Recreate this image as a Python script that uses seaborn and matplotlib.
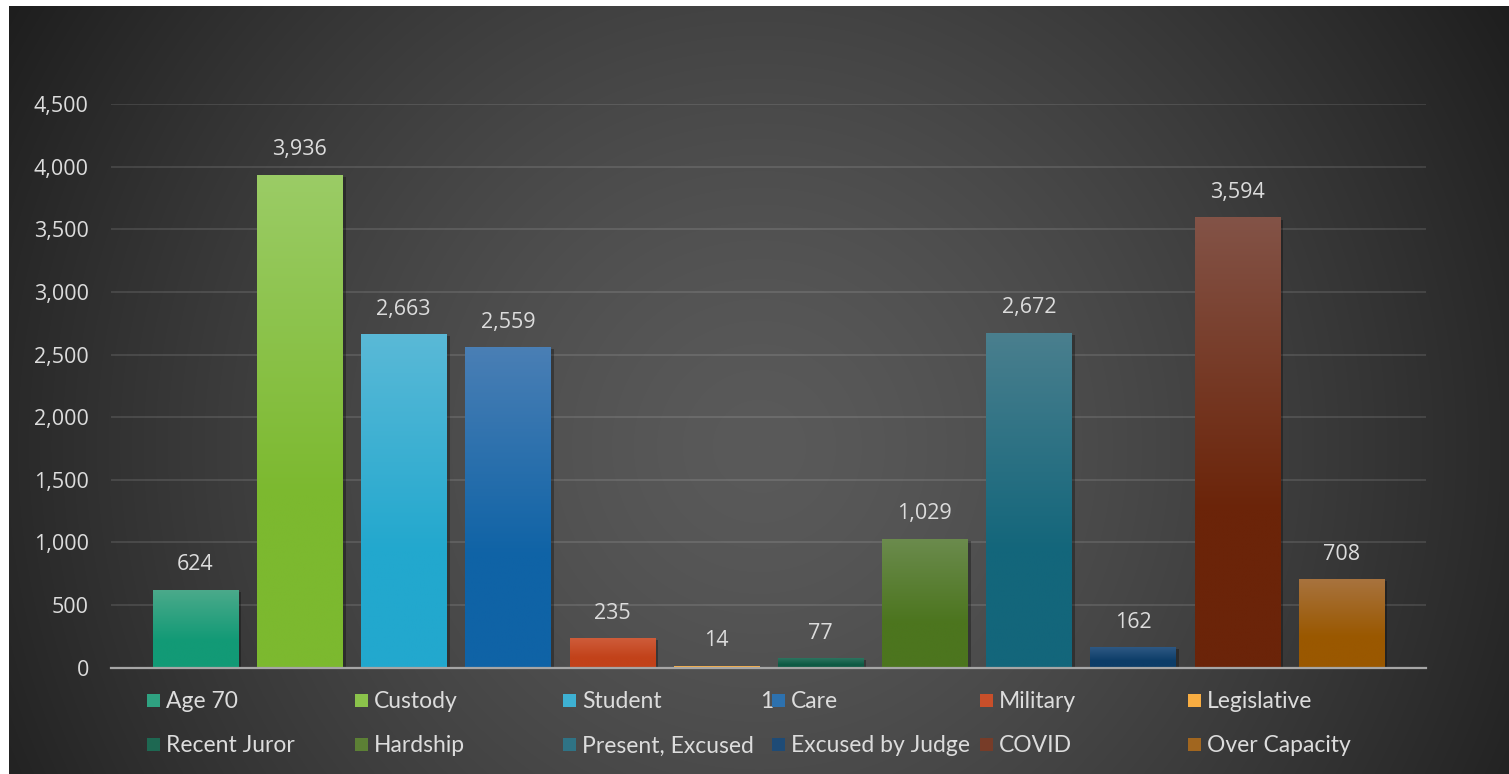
import numpy as np
import pandas as pd
import matplotlib
matplotlib.use("Agg")
import matplotlib.pyplot as plt
import matplotlib.colors as mcolors
from matplotlib.patches import Rectangle
import matplotlib.patheffects as pe
import seaborn as sns

# ---------------- data ----------------
categories = ["Age 70", "Custody", "Student", "Care", "Military", "Legislative",
              "Recent Juror", "Hardship", "Present, Excused", "Excused by Judge",
              "COVID", "Over Capacity"]
values = [624, 3936, 2663, 2559, 235, 14, 77, 1029, 2672, 162, 3594, 708]
base_colors = ["#129A76", "#7CB92F", "#22A8CE", "#0F63A6", "#C2421A", "#F7A11E",
               "#0E5A44", "#4C751E", "#13667B", "#0D3D68", "#6B2409", "#9A5800"]
top_colors = ["#4CAA8B", "#9BCC66", "#5AB9D7", "#4A7FB5", "#CE5C3A", "#F9B865",
              "#2D7560", "#6B8B4D", "#4A7F8E", "#2E5983", "#835347", "#A8733E"]
y_ticks = [0, 500, 1000, 1500, 2000, 2500, 3000, 3500, 4000, 4500]

W, H = 1509, 774
TXT = "#DCDCDC"

sns.set_style("white")
plt.rcParams["font.family"] = ["Open Sans", "DejaVu Sans"]

fig = plt.figure(figsize=(W / 100, H / 100), dpi=100, facecolor="white")

# ---------------- radial background ----------------
bg = fig.add_axes([9 / W, 0, (W - 9) / W, (H - 6) / H], zorder=-10)
bw, bh = W - 9, H - 6
yy, xx = np.mgrid[0:bh, 0:bw]
cx, cy = 750, 440
r = np.sqrt((xx - cx) ** 2 + (yy - cy) ** 2)
r = r / np.sqrt(cx ** 2 + cy ** 2)
r = np.clip(r, 0, 1)
c_center = np.array([0x5A, 0x5A, 0x5A]) / 255
c_edge = np.array([0x1E, 0x1E, 0x1E]) / 255
t = r ** 1.4
img = c_center[None, None, :] * (1 - t[..., None]) + c_edge[None, None, :] * t[..., None]
bg.imshow(img, aspect="auto", interpolation="bilinear")
bg.axis("off")

# ---------------- main axes ----------------
L, R = 111, 1425.7
B, T = 667.7, 104
ax = fig.add_axes([L / W, (H - B) / H, (R - L) / W, (B - T) / H])
ax.set_facecolor("none")

df = pd.DataFrame({"category": categories, "value": values})
sns.barplot(data=df, x="category", y="value", hue="category",
            palette=base_colors, hue_order=categories, order=categories,
            width=0.816, saturation=1, legend=False, ax=ax, zorder=3)

patches = sorted(ax.patches, key=lambda p: p.get_x())
for p, tc, bc in zip(patches, top_colors, base_colors):
    p.set_edgecolor("none")
    p.set_linewidth(0)
    p.set_path_effects([pe.SimplePatchShadow(offset=(2.5, -1.5), alpha=0.3, shadow_rgbFace="black"),
                        pe.Normal()])
    x0, y0, w, h = p.get_x(), p.get_y(), p.get_width(), p.get_height()
    c1 = np.array(mcolors.to_rgb(tc))
    c2 = np.array(mcolors.to_rgb(bc))
    s = np.linspace(0, 1, 256)
    s2 = np.clip(s / 0.65, 0, 1)[:, None]
    grad = c1 * (1 - s2) + c2 * s2
    grad = grad[:, None, :]
    im = ax.imshow(grad, extent=[x0, x0 + w, y0, y0 + h], aspect="auto",
                   origin="upper", zorder=3.5, interpolation="bilinear")
    im.set_clip_path(p)

for i, v in enumerate(values):
    ax.annotate(f"{v:,}", (i, v), xytext=(0, 18), textcoords="offset points",
                ha="center", va="center", color=TXT, fontsize=15.5)

ax.set_xlim(-0.81, 11.81)
ax.set_ylim(0, 4500)
ax.set_yticks(y_ticks)
ax.set_yticklabels([f"{v:,}" for v in y_ticks])
ax.set_xticks([])
ax.set_xlabel("")
ax.set_ylabel("")
ax.tick_params(axis="y", length=0, pad=16, labelcolor=TXT, labelsize=15.5)
ax.grid(axis="y", color="#FFFFFF", alpha=0.12, linewidth=1.3, zorder=1)
ax.set_axisbelow(True)
for s in ["left", "right", "top"]:
    ax.spines[s].set_visible(False)
ax.spines["bottom"].set_color("#A6A6A6")
ax.spines["bottom"].set_linewidth(1.6)
ax.spines["bottom"].set_zorder(5)

# ---------------- legend (Excel-style equal columns) ----------------
col_x0 = 147
col_dx = 208.2
row_y = [700, 744]
msz = 13
for i, (lab, col) in enumerate(zip(categories, base_colors)):
    row, colm = divmod(i, 6)
    mx = col_x0 + colm * col_dx
    my = row_y[row]
    tc = np.array(mcolors.to_rgb(top_colors[i]))
    bcol = np.array(mcolors.to_rgb(col))
    fig.patches.append(Rectangle((mx / W, (H - my - msz / 2) / H), msz / W, msz / H,
                                 transform=fig.transFigure, facecolor=(tc + bcol) / 2,
                                 edgecolor="none", zorder=5))
    fig.text((mx + msz + 6) / W, (H - my) / H, lab, color=TXT, fontsize=16.5,
             family=["Lato", "DejaVu Sans"], ha="left", va="center_baseline")

fig.text(773 / W, (H - 700) / H, "1", color=TXT, fontsize=16.5,
         family=["Lato", "DejaVu Sans"], ha="right", va="center_baseline")

fig.savefig("out.png", dpi=100, facecolor="white")
